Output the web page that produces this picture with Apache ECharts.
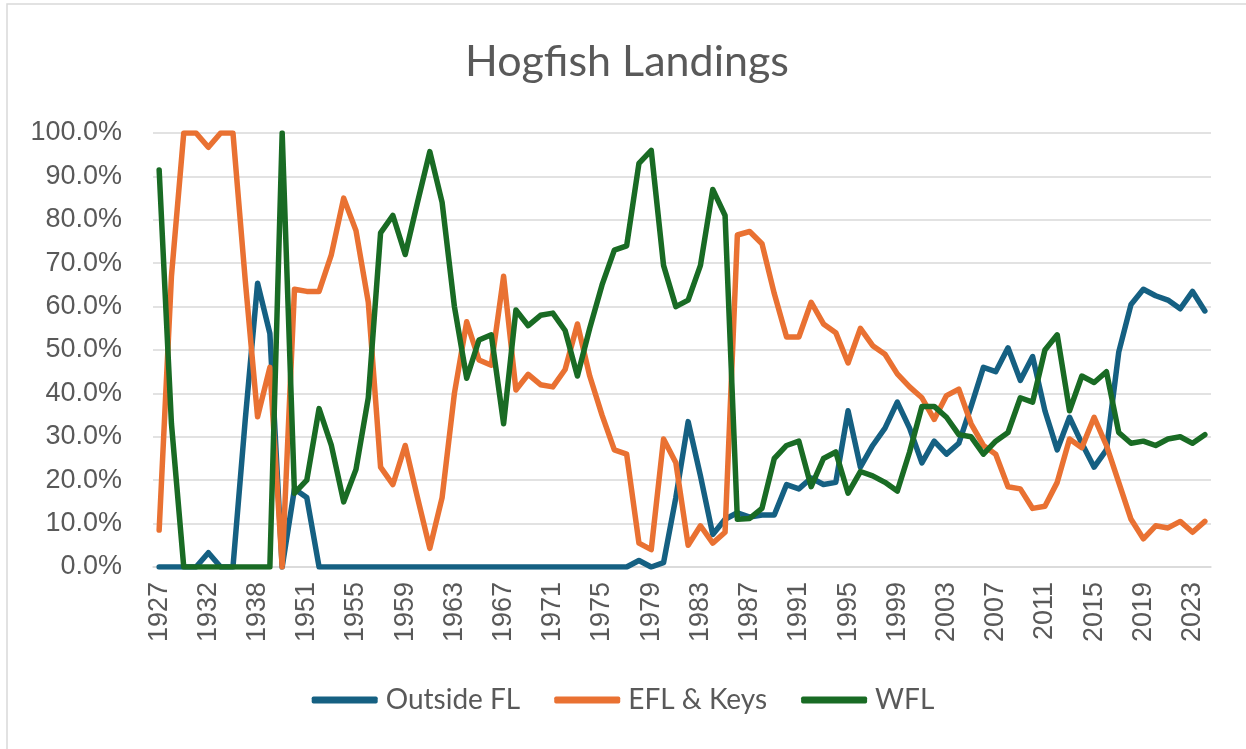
<!DOCTYPE html>
<html>
<head>
<meta charset="utf-8">
<title>Hogfish Landings</title>
<script src="https://cdn.jsdelivr.net/npm/echarts@6/dist/echarts.min.js"></script>
<style>
  html, body { margin: 0; padding: 0; background: #fff; }
  #main { width: 1246px; height: 749px; }
</style>
</head>
<body>
<div id="main"></div>
<script>
// years (there are gaps before 1951)
var years = [1927,1928,1929,1930,1932,1934,1936,1937,1938,1939,1940,1950,1951,
  1952,1953,1954,1955,1956,1957,1958,1959,1960,1961,1962,1963,1964,1965,1966,1967,
  1968,1969,1970,1971,1972,1973,1974,1975,1976,1977,1978,1979,1980,1981,1982,1983,
  1984,1985,1986,1987,1988,1989,1990,1991,1992,1993,1994,1995,1996,1997,1998,1999,
  2000,2001,2002,2003,2004,2005,2006,2007,2008,2009,2010,2011,2012,2013,2014,2015,
  2016,2017,2018,2019,2020,2021,2022,2023,2024];

// share of landings, percent
var outsideFL = [0,0,0,0,3.3,0,0,34,65.4,53.8,
  0,18,16,0,0,0,0,0,0,0,
  0,0,0,0,0,0,0,0,0,0,
  0,0,0,0,0,0,0,0,0,1.5,
  0,1,16,33.5,21,7.5,11,12.5,11.5,12,
  12,19,18,20.5,19,19.5,36,23,28,32,
  38,32,24,29,26,28.5,37,46,45,50.5,
  43,48.5,36,27,34.5,28.5,23,27,49.5,60.5,
  64,62.5,61.5,59.5,63.5,59];

var eflKeys = [8.5,67,100,100,96.7,100,100,66,34.6,46,
  0,64,63.5,63.5,72,85,77.5,61,23,19,
  28,16,4.3,16,40,56.5,47.7,46.5,67,40.8,
  44.4,42,41.5,45.5,56,44,35,27,26,5.5,
  4,29.5,24,5,9.5,5.5,8,76.5,77.3,74.5,
  63,53,53,61,56,54,47,55,51,49,
  44.5,41.5,39,34,39.5,41,33,28,26,18.5,
  18,13.5,14,19.5,29.5,27.5,34.5,28,19.5,11,
  6.5,9.5,9,10.5,8,10.5];

var wfl = [91.5,33,0,0,0,0,0,0,0,0,
  100,17,20,36.5,28,15,22.5,39,77,81,
  72,84,95.7,84,60,43.5,52.3,53.5,33,59.2,
  55.6,58,58.5,54.5,44,55,65,73,74,93,
  96,69.5,60,61.5,69.5,87,81,11,11.2,13.5,
  25,28,29,18.5,25,26.5,17,22,21,19.5,
  17.5,26.5,37,37,34.5,30.5,30,26,29,31,
  39,38,50,53.5,36,44,42.5,45,31,28.5,
  29,28,29.5,30,28.5,30.5];

var chart = echarts.init(document.getElementById('main'));

function lineSeries(name, data, color) {
  return {
    name: name,
    type: 'line',
    data: data,
    symbol: 'none',
    color: color,
    lineStyle: { width: 5.5, color: color, cap: 'round', join: 'round' }
  };
}

var option = {
  animation: false,
  backgroundColor: '#fff',
  graphic: [{
    type: 'rect',
    shape: { x: 7, y: 4, width: 1260, height: 800 },
    style: { fill: 'none', stroke: '#d9d9d9', lineWidth: 1.5 },
    silent: true
  }],
  title: {
    text: 'Hogfish Landings',
    left: 622,
    textAlign: 'center',
    top: 36,
    textStyle: { fontFamily: 'Lato', fontSize: 43, fontWeight: 'normal', color: '#595959' }
  },
  legend: {
    bottom: 30,
    left: 'center',
    icon: 'roundRect',
    itemWidth: 66,
    itemHeight: 7,
    itemGap: 34,
    textStyle: { fontFamily: 'Lato', fontSize: 28, color: '#595959', padding: [0, 0, 0, 3] },
    data: ['Outside FL', 'EFL & Keys', 'WFL']
  },
  grid: { left: 153, right: 35, top: 133, bottom: 182 },
  xAxis: {
    type: 'category',
    data: years,
    boundaryGap: true,
    axisLine: { show: true, lineStyle: { color: '#d9d9d9', width: 1.5 } },
    axisTick: { show: false },
    axisLabel: {
      interval: 3,
      rotate: 90,
      margin: 15,
      fontFamily: 'Liberation Sans',
      fontSize: 27,
      color: '#595959'
    },
    splitLine: { show: false }
  },
  yAxis: {
    type: 'value',
    min: 0,
    max: 100,
    interval: 10,
    axisLine: { show: false },
    axisTick: { show: false },
    axisLabel: {
      margin: 31,
      fontFamily: 'Liberation Sans',
      fontSize: 27,
      color: '#595959',
      formatter: function (v) { return v.toFixed(1) + '%'; }
    },
    splitLine: { lineStyle: { color: '#d9d9d9', width: 1.5 } }
  },
  series: [
    lineSeries('Outside FL', outsideFL, '#156082'),
    lineSeries('EFL & Keys', eflKeys, '#E97132'),
    lineSeries('WFL', wfl, '#196B24')
  ]
};

chart.setOption(option);
window.addEventListener('resize', function () {
  chart.resize();
});
</script>
</body>
</html>
